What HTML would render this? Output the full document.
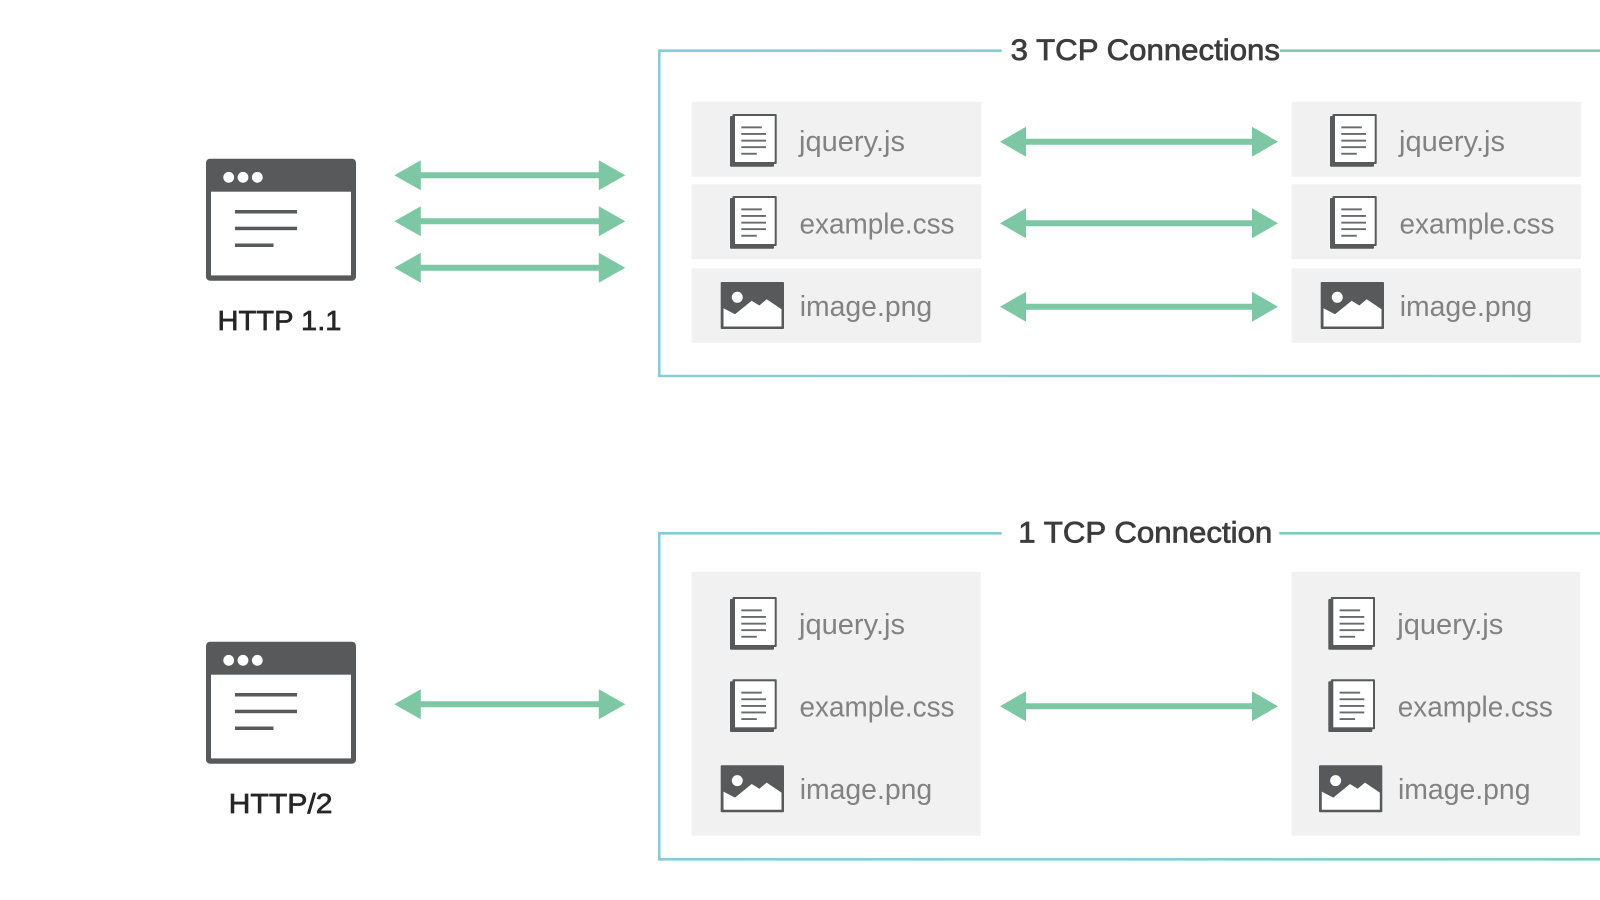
<!DOCTYPE html>
<html>
<head>
<meta charset="utf-8">
<style>
html,body{margin:0;padding:0;background:#fff;width:1600px;height:900px;overflow:hidden}
svg{display:block;filter:blur(.35px)}
.f{font-family:"Liberation Sans",sans-serif;font-size:29px;fill:#828282}
.t{font-family:"Liberation Sans",sans-serif;font-size:30px;fill:#3c3c3c;stroke:#3c3c3c;stroke-width:.75px}
.h{font-family:"Liberation Sans",sans-serif;font-size:28px;fill:#262626;stroke:#262626;stroke-width:.65px}
</style>
</head>
<body>
<svg width="1600" height="900" viewBox="0 0 1600 900" xmlns="http://www.w3.org/2000/svg">
<defs>
<linearGradient id="b" gradientUnits="userSpaceOnUse" x1="658" y1="0" x2="1600" y2="0">
<stop offset="0" stop-color="#89ccd8"/><stop offset=".5" stop-color="#88cbd2"/><stop offset="1" stop-color="#85c9bb"/>
</linearGradient>
<g id="arrowL">
<path d="M0 0L26.500 -15V-3H204.500V-15L231 0L204.500 15V3H26.500V15Z" fill="#7dc7a4"/>
</g>
<g id="arrowR">
<path d="M0 0L26 -15V-3H252V-15L278 0L252 15V3H26V15Z" fill="#7dc7a4"/>
</g>
<g id="browser">
<rect x="206" y="158.700" width="150" height="122" rx="4" fill="#58595b"/>
<rect x="211" y="191.700" width="140" height="83.700" fill="#fff"/>
<circle cx="228.700" cy="177.300" r="5.400" fill="#fff"/>
<circle cx="243" cy="177.300" r="5.400" fill="#fff"/>
<circle cx="257.300" cy="177.300" r="5.400" fill="#fff"/>
<rect x="235" y="210" width="62" height="3.500" fill="#58595b"/>
<rect x="235" y="226.700" width="62" height="3.500" fill="#58595b"/>
<rect x="235" y="243.500" width="38.500" height="3.500" fill="#58595b"/>
</g>
<g id="doc">
<rect x="730" y="116" width="44" height="50.700" rx="1" fill="#58595b"/>
<rect x="732.500" y="114" width="44.200" height="50" rx="1" fill="#58595b"/>
<rect x="735" y="116" width="39.700" height="46" fill="#fff"/>
<g fill="#6a6b6d">
<rect x="741.300" y="126.400" width="20.500" height="1.900"/>
<rect x="741.300" y="133" width="24.700" height="1.900"/>
<rect x="741.300" y="139.700" width="24.700" height="1.900"/>
<rect x="741.300" y="146.200" width="24.700" height="1.900"/>
<rect x="741.300" y="152.800" width="15.500" height="1.900"/>
</g>
</g>
<g id="img">
<rect x="720.700" y="282" width="63.300" height="47" rx="1" fill="#58595b"/>
<circle cx="737.300" cy="297.300" r="5.500" fill="#fff"/>
<path d="M723.500 308.300L735 314.300L751.700 300.700L759.300 305.500L766.700 299.300L781.500 309.300V326.500H723.500Z" fill="#fff"/>
</g>
</defs>
<rect width="1600" height="900" fill="#fff"/>

<!-- top box -->
<path d="M1001.700 50.700H659.300V376H1600" fill="none" stroke="url(#b)" stroke-width="2.600"/>
<path d="M1280 50.700H1600" fill="none" stroke="#85c9ac" stroke-width="2.600"/>
<text class="t" x="1010.700" y="60" textLength="269.300" lengthAdjust="spacingAndGlyphs">3 TCP Connections</text>

<!-- bottom box -->
<path d="M1001.700 533.300H659.300V859.300H1600" fill="none" stroke="url(#b)" stroke-width="2.600"/>
<path d="M1279.300 533.300H1600" fill="none" stroke="#85c9b4" stroke-width="2.600"/>
<text class="t" x="1018.300" y="542.700" textLength="254" lengthAdjust="spacingAndGlyphs">1 TCP Connection</text>

<!-- grey panels -->
<g fill="#f1f1f1">
<rect x="691.700" y="101.700" width="289.600" height="75" rx="1"/>
<rect x="691.700" y="184.300" width="289.600" height="75" rx="1"/>
<rect x="691.700" y="268.300" width="289.600" height="74.400" rx="1"/>
<rect x="1291.700" y="101.700" width="289.300" height="75" rx="1"/>
<rect x="1291.700" y="184.300" width="289.300" height="75" rx="1"/>
<rect x="1291.700" y="268.300" width="289.300" height="74.400" rx="1"/>
<rect x="691.700" y="571.700" width="289" height="264" rx="1"/>
<rect x="1291.700" y="571.700" width="288.300" height="264" rx="1"/>
</g>

<!-- browsers -->
<use href="#browser"/>
<use href="#browser" y="483"/>
<text class="h" x="217.500" y="330" textLength="124" lengthAdjust="spacingAndGlyphs">HTTP 1.1</text>
<text class="h" x="228.600" y="813" textLength="104" lengthAdjust="spacingAndGlyphs">HTTP/2</text>

<!-- left arrows -->
<use href="#arrowL" x="394.300" y="175.300"/>
<use href="#arrowL" x="394.300" y="221.300"/>
<use href="#arrowL" x="394.300" y="267.700"/>
<use href="#arrowL" x="394.300" y="704.300"/>

<!-- right arrows -->
<use href="#arrowR" x="1000" y="141.700"/>
<use href="#arrowR" x="1000" y="223.300"/>
<use href="#arrowR" x="1000" y="306.700"/>
<use href="#arrowR" x="1000" y="706.300"/>

<!-- icons top left -->
<use href="#doc"/>
<use href="#doc" y="82"/>
<use href="#img"/>
<!-- icons top right -->
<use href="#doc" x="600"/>
<use href="#doc" x="600" y="82"/>
<use href="#img" x="600"/>
<!-- icons bottom left -->
<use href="#doc" y="483"/>
<use href="#doc" y="565.300"/>
<use href="#img" y="483.300"/>
<!-- icons bottom right -->
<use href="#doc" x="598.300" y="483"/>
<use href="#doc" x="598.300" y="565.300"/>
<use href="#img" x="598.300" y="483.300"/>

<!-- labels -->
<text class="f" x="799" y="151.200" textLength="106" lengthAdjust="spacingAndGlyphs">jquery.js</text>
<text class="f" x="799.500" y="233.300" textLength="155" lengthAdjust="spacingAndGlyphs">example.css</text>
<text class="f" x="799.700" y="316" textLength="132.500" lengthAdjust="spacingAndGlyphs">image.png</text>

<text class="f" x="1399" y="151.200" textLength="106" lengthAdjust="spacingAndGlyphs">jquery.js</text>
<text class="f" x="1399.500" y="233.300" textLength="155" lengthAdjust="spacingAndGlyphs">example.css</text>
<text class="f" x="1399.700" y="316" textLength="132.500" lengthAdjust="spacingAndGlyphs">image.png</text>

<text class="f" x="799" y="633.800" textLength="106" lengthAdjust="spacingAndGlyphs">jquery.js</text>
<text class="f" x="799.500" y="716.700" textLength="155" lengthAdjust="spacingAndGlyphs">example.css</text>
<text class="f" x="799.700" y="799" textLength="132.500" lengthAdjust="spacingAndGlyphs">image.png</text>

<text class="f" x="1397.300" y="633.800" textLength="106" lengthAdjust="spacingAndGlyphs">jquery.js</text>
<text class="f" x="1397.800" y="716.700" textLength="155" lengthAdjust="spacingAndGlyphs">example.css</text>
<text class="f" x="1398" y="799" textLength="132.500" lengthAdjust="spacingAndGlyphs">image.png</text>
</svg>
</body>
</html>
